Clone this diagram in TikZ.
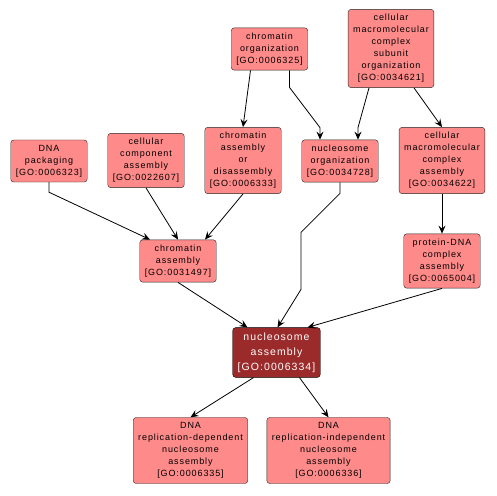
\documentclass[tikz,border=0pt]{standalone}
\usepackage{fontspec}
\usepackage{xcolor}
\usetikzlibrary{arrows.meta}
\newfontfamily\gofont[LetterSpace=10]{Liberation Sans}
\definecolor{termfill}{HTML}{FF8A8A}
\definecolor{rootfill}{HTML}{9B2B2B}
\tikzset{
  goterm/.style={draw=black!85,fill=termfill,rounded corners=3pt,align=center,
    inner xsep=5pt,inner ysep=5pt,font=\gofont\fontsize{9}{12}\selectfont},
  goroot/.style={goterm,fill=rootfill,text=white,draw=black,
    font=\gofont\fontsize{10.5}{15}\selectfont},
  isa/.style={draw=black,line width=0.8pt,-{Stealth[length=8pt,width=7pt,inset=3pt]}}
}
\begin{document}
\begin{tikzpicture}[x=1pt,y=-1pt]
  \useasboundingbox (0,0) rectangle (497,495);
  % top row
  \node[goterm] (co) at (269.5,49) {chromatin\\organization\\{}[GO:0006325]};
  \node[goterm] (cmcso) at (391,48.5) {cellular\\macromolecular\\complex\\subunit\\organization\\{}[GO:0034621]};
  % second row
  \node[goterm] (dp) at (49,161) {DNA\\packaging\\{}[GO:0006323]};
  \node[goterm] (cca) at (146,160.5) {cellular\\component\\assembly\\{}[GO:0022607]};
  \node[goterm] (caod) at (243,160.5) {chromatin\\assembly\\or\\disassembly\\{}[GO:0006333]};
  \node[goterm] (no) at (340,161) {nucleosome\\organization\\{}[GO:0034728]};
  \node[goterm] (cmca) at (442,160.5) {cellular\\macromolecular\\complex\\assembly\\{}[GO:0034622]};
  % third row
  \node[goterm] (ca) at (178,261) {chromatin\\assembly\\{}[GO:0031497]};
  \node[goterm] (pdna) at (442,261) {protein-DNA\\complex\\assembly\\{}[GO:0065004]};
  % the term itself
  \node[goroot] (na) at (276.5,352.5) {nucleosome\\assembly\\{}[GO:0006334]};
  % children
  \node[goterm] (dep) at (190.5,450.5) {DNA\\replication-dependent\\nucleosome\\assembly\\{}[GO:0006335]};
  \node[goterm] (indep) at (328.5,450.5) {DNA\\replication-independent\\nucleosome\\assembly\\{}[GO:0006336]};
  % edges
  \draw[isa] ([xshift=-19pt]co.south) -- (caod.north);
  \draw[isa] ([xshift=20pt]co.south) -- ++(0,17) -- ([xshift=-20pt,yshift=12pt]no.north) -- ([xshift=-20pt]no.north);
  \draw[isa] ([xshift=-22pt]cmcso.south) -- ([xshift=18pt,yshift=12pt]no.north) -- ([xshift=18pt]no.north);
  \draw[isa] ([xshift=23pt]cmcso.south) -- (cmca.north);
  \draw[isa] (dp.south) -- ++(0,10) -- ([xshift=-28pt]ca.north);
  \draw[isa] (cca.south) -- (ca.north);
  \draw[isa] (caod.south) -- ([xshift=27pt]ca.north);
  \draw[isa] (no.south) -- ++(0,11) -- ([xshift=-39pt,yshift=-50pt]no.south) -- ([xshift=-39pt,yshift=-107pt]no.south) -- ([xshift=1pt]na.north);
  \draw[isa] (cmca.south) -- (pdna.north);
  \draw[isa] (pdna.south) -- ([xshift=31pt]na.north);
  \draw[isa] (ca.south) -- ([xshift=-29pt]na.north);
  \draw[isa] ([xshift=-23pt]na.south) -- (dep.north);
  \draw[isa] ([xshift=23pt]na.south) -- (indep.north);
\end{tikzpicture}
\end{document}
